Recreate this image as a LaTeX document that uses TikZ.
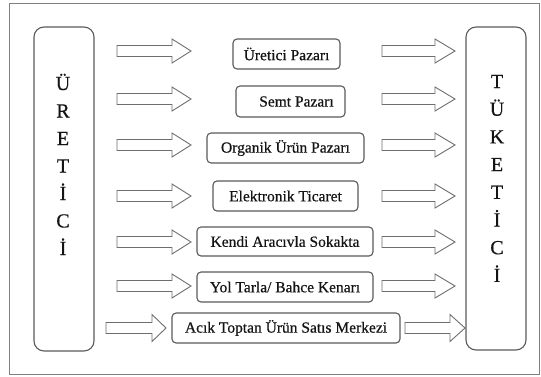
\documentclass[tikz,border=0pt]{standalone}
\usepackage{fontspec}
\setmainfont{Liberation Serif}
\newfontfamily\boxfont[FakeBold=0.5]{Liberation Serif}
\definecolor{boxgray}{HTML}{5A5A5A}
\definecolor{arrgray}{HTML}{6E6E6E}
\definecolor{framegray}{HTML}{808080}
\definecolor{txt}{HTML}{141414}
\newcommand\blkarrow[5]{% x1, x2, head start, y, head half height
  \draw[blockarrow] (#1,#4-5.5) -- (#3,#4-5.5) -- (#3,#4-#5) -- (#2,#4) -- (#3,#4+#5) -- (#3,#4+5.5) -- (#1,#4+5.5) -- cycle;}
\begin{document}
\begin{tikzpicture}[x=1pt,y=-1pt,
  box/.style={draw=boxgray, line width=1.1pt, rounded corners=4pt, fill=white, inner sep=0pt,
    font=\boxfont\fontsize{15.5}{18}\selectfont, text=txt},
  tallbox/.style={draw=boxgray, line width=1.1pt, rounded corners=10pt, inner sep=0pt},
  letter/.style={font=\boxfont\fontsize{20}{23}\selectfont, anchor=base, inner sep=0pt, text=txt},
  blockarrow/.style={draw=arrgray, line width=0.9pt, fill=white, line join=miter}]
\useasboundingbox (0,0) rectangle (541,376);
\draw[framegray, line width=1.2pt] (9.5,3.5) rectangle (539.5,374.5);

\node[tallbox, minimum width=60pt, minimum height=324pt] (ur) at (64,189) {};
\node[tallbox, minimum width=60pt, minimum height=323pt] (tu) at (496,188.5) {};

\foreach \L [count=\i] in {Ü,R,E,T,İ,C,İ}
  \node[letter] (u\i) at (63,90+27.5*\i-27.5) {\L};
\foreach \L [count=\i] in {T,Ü,K,E,T,İ,C,İ}
  \node[letter] (t\i) at (497,88+27.7*\i-27.7) {\L};

\node[box, minimum width=107pt, minimum height=30pt] (b1) at (286.5,54) {Üretici Pazarı};
\node[box, minimum width=109pt, minimum height=31pt] (b2) at (290.5,101.5) {\hspace*{12pt}Semt Pazarı};
\node[box, minimum width=157pt, minimum height=30pt] (b3) at (285.5,148) {Organik Ürün Pazarı};
\node[box, minimum width=145pt, minimum height=30pt] (b4) at (285.5,196) {Elektronik Ticaret};
\node[box, minimum width=176pt, minimum height=29pt] (b5) at (285,241.5) {Kendi Aracıvla Sokakta};
\node[box, minimum width=176pt, minimum height=30pt] (b6) at (285,287) {Yol Tarla/ Bahce Kenarı};
\node[box, minimum width=228pt, minimum height=30pt] (b7) at (286,328) {Acık Toptan Ürün Satıs Merkezi};

\foreach \y in {51,99,145,196,242,286} {
  \blkarrow{117}{191}{172}{\y}{12}
  \blkarrow{382}{455}{435}{\y}{12}
}
\blkarrow{106}{166}{152}{328}{13.5}
\blkarrow{405}{465}{450}{328}{13.5}
\end{tikzpicture}
\end{document}
